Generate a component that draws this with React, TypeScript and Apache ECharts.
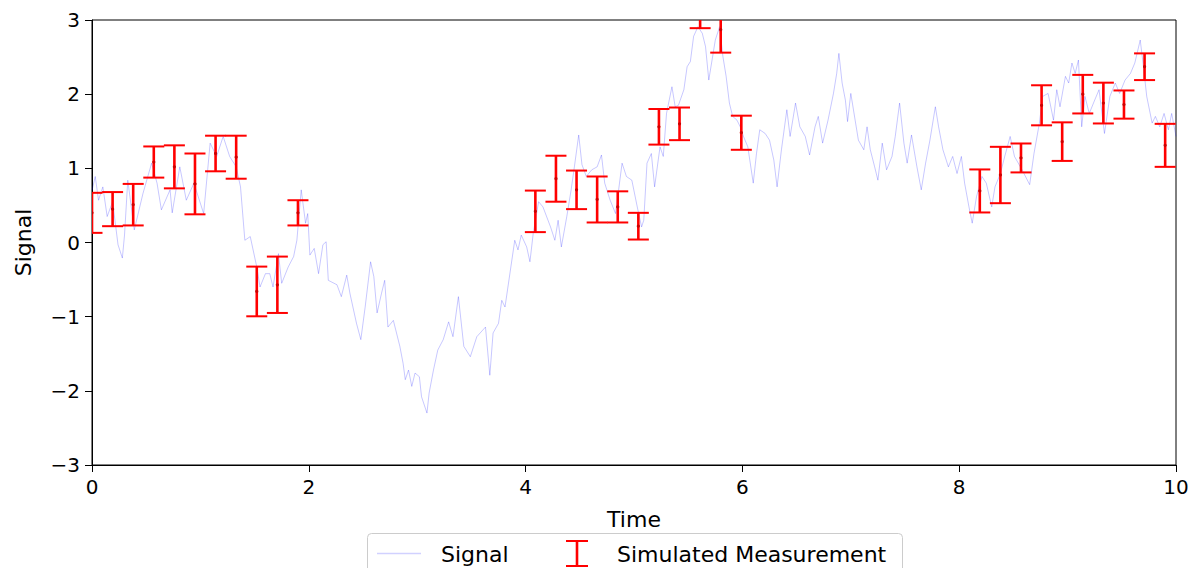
import React, { useEffect, useRef } from "react";
import * as echarts from "echarts";

// Signal
const signalTime = [0.0,0.03,0.06,0.1,0.14,0.19,0.24,0.28,0.3,0.33,0.39,0.47,0.55,0.6,0.64,0.72,0.74,0.81,0.87,0.94,1.03,1.09,1.15,1.21,1.27,1.33,1.37,1.41,1.46,1.52,1.55,1.6,1.64,1.67,1.72,1.75,1.81,1.86,1.89,1.93,1.97,1.99,2.01,2.05,2.09,2.13,2.16,2.18,2.26,2.3,2.35,2.38,2.44,2.48,2.52,2.57,2.6,2.63,2.67,2.7,2.73,2.78,2.84,2.87,2.89,2.92,2.95,2.98,3.02,3.04,3.09,3.11,3.15,3.19,3.24,3.29,3.33,3.38,3.43,3.49,3.55,3.63,3.67,3.7,3.75,3.78,3.81,3.86,3.9,3.93,3.96,4.01,4.04,4.07,4.12,4.16,4.23,4.27,4.3,4.33,4.38,4.42,4.45,4.49,4.52,4.56,4.61,4.66,4.7,4.73,4.78,4.83,4.89,4.93,4.98,5.03,5.07,5.09,5.12,5.16,5.19,5.24,5.27,5.3,5.35,5.38,5.41,5.46,5.49,5.52,5.55,5.59,5.63,5.66,5.69,5.72,5.75,5.79,5.82,5.85,5.88,5.91,5.95,5.98,6.01,6.05,6.1,6.13,6.16,6.21,6.25,6.29,6.32,6.36,6.41,6.44,6.49,6.53,6.58,6.62,6.67,6.7,6.74,6.79,6.84,6.87,6.89,6.92,6.95,6.97,7.0,7.04,7.07,7.12,7.15,7.18,7.22,7.25,7.29,7.33,7.38,7.41,7.45,7.49,7.52,7.56,7.61,7.65,7.69,7.73,7.78,7.81,7.85,7.9,7.94,7.98,8.02,8.05,8.09,8.12,8.16,8.21,8.25,8.3,8.33,8.38,8.42,8.47,8.51,8.58,8.65,8.69,8.74,8.77,8.82,8.87,8.9,8.93,8.98,9.01,9.04,9.07,9.1,9.13,9.16,9.2,9.25,9.29,9.34,9.39,9.44,9.48,9.53,9.58,9.62,9.67,9.7,9.73,9.78,9.81,9.85,9.89,9.93,9.96,10.0];
const signalValue = [0.7,0.89,0.57,0.75,0.35,0.55,-0.03,-0.21,0.1,0.84,0.17,0.66,1.07,0.8,0.44,0.71,0.4,1.02,0.57,0.8,0.39,1.34,1.16,1.43,1.16,1.02,0.75,0.03,0.08,-0.33,-0.6,-0.42,-0.42,-0.6,-0.15,-0.55,-0.33,-0.19,0.03,0.71,0.26,0.39,-0.17,-0.08,-0.42,-0.03,0.01,-0.51,-0.57,-0.73,-0.44,-0.69,-1.09,-1.31,-0.87,-0.26,-0.46,-0.95,-0.69,-0.51,-1.14,-1.05,-1.4,-1.63,-1.85,-1.72,-1.94,-1.76,-1.81,-2.08,-2.3,-2.03,-1.72,-1.45,-1.31,-1.07,-1.27,-0.73,-1.4,-1.54,-1.27,-1.14,-1.79,-1.22,-1.09,-0.78,-0.87,-0.37,0.03,-0.1,0.1,-0.06,-0.26,0.12,0.55,0.48,0.21,0.03,0.3,-0.06,0.35,0.71,1.02,1.45,1.05,0.89,0.98,1.02,1.18,0.8,0.57,0.39,1.07,0.89,0.84,0.48,0.21,0.3,1.07,1.2,0.75,1.29,1.16,1.74,2.1,1.83,1.85,2.06,2.37,2.44,2.78,2.91,2.82,2.64,2.19,2.46,2.73,2.91,2.51,2.24,1.88,1.7,1.65,1.56,1.43,1.29,0.8,1.2,1.52,1.47,1.38,1.11,0.75,1.25,1.79,1.43,1.88,1.56,1.43,1.18,1.56,1.7,1.34,1.65,2.01,2.28,2.55,2.15,1.92,1.63,2.01,1.65,1.38,1.25,1.56,1.25,1.02,0.84,1.34,0.98,1.16,1.43,1.88,1.34,1.07,1.45,1.02,0.71,1.07,1.38,1.83,1.56,1.25,1.02,1.16,0.93,1.16,0.8,0.48,0.26,0.62,0.89,0.8,0.48,0.75,0.93,1.16,1.43,1.16,0.98,0.78,1.2,1.61,1.97,2.01,1.65,2.06,1.83,2.24,2.15,2.42,2.28,2.46,1.56,1.97,1.74,1.92,2.06,1.47,1.97,2.15,2.01,2.19,2.28,2.42,2.73,2.37,1.97,1.61,1.7,1.56,1.74,1.52,1.74,1.43];

// Simulated measurements
const measTime = [0,0.19,0.38,0.57,0.76,0.95,1.14,1.33,1.52,1.71,1.9,4.09,4.28,4.47,4.66,4.85,5.04,5.23,5.42,5.61,5.8,5.99,8.19,8.38,8.57,8.76,8.95,9.14,9.33,9.52,9.71,9.9];
const measValue = [0.4,0.45,0.51,1.085,1.02,0.79,1.2,1.15,-0.66,-0.57,0.4,0.42,0.86,0.71,0.58,0.48,0.22,1.56,1.6,3.2,2.87,1.48,0.695,0.91,1.14,1.85,1.36,2.0,1.88,1.86,2.37,1.31];
const measError = [0.27,0.23,0.28,0.21,0.29,0.41,0.24,0.29,0.335,0.38,0.17,0.28,0.31,0.26,0.31,0.21,0.18,0.24,0.22,0.31,0.31,0.23,0.29,0.38,0.195,0.27,0.26,0.26,0.275,0.19,0.18,0.29];

const xTicks = { min: 0, max: 10, interval: 2 };
const yTicks = { min: -3, max: 3, interval: 1 };

const FONT = "DejaVu Sans";
const fmt = (v: number) => (v < 0 ? "\u2212" + Math.abs(v) : String(v));

export default function App() {
  const ref = useRef<HTMLDivElement>(null);
  useEffect(() => {
    if (!ref.current) return;
    const chart = echarts.init(ref.current, undefined, { renderer: "svg" });
    const signalData = signalTime.map((t, i) => [t, signalValue[i]]);
    const measData = measTime.map((t, i) => [t, measValue[i], measError[i]]);
    const axisCommon = {
      axisLine: { show: true, onZero: false, lineStyle: { color: "#000", width: 1 } },
      axisTick: { show: true, inside: false, length: 7, lineStyle: { color: "#000", width: 1 } },
      splitLine: { show: false },
    };
    chart.setOption({
      animation: false,
      backgroundColor: "#fff",
      textStyle: { fontFamily: FONT },
      grid: { left: 92, right: 21, top: 20, bottom: 103, show: true, borderColor: "#000", borderWidth: 1, backgroundColor: "transparent" },
      xAxis: {
        type: "value",
        ...xTicks,
        ...axisCommon,
        name: "Time",
        nameLocation: "middle",
        nameGap: 43,
        nameTextStyle: { fontSize: 22, color: "#000", fontFamily: FONT },
        axisLabel: { fontSize: 20, color: "#000", margin: 12, fontFamily: FONT, formatter: fmt },
      },
      yAxis: {
        type: "value",
        ...yTicks,
        ...axisCommon,
        name: "Signal",
        nameLocation: "middle",
        nameGap: 58,
        nameTextStyle: { fontSize: 22, color: "#000", fontFamily: FONT },
        axisLabel: { fontSize: 20, color: "#000", margin: 12, fontFamily: FONT, formatter: fmt },
      },
      series: [
        {
          name: "Signal",
          type: "line",
          data: signalData,
          symbol: "none",
          lineStyle: { color: "rgba(0,0,255,0.28)", width: 0.8 },
          itemStyle: { color: "rgba(0,0,255,0.28)" },
          clip: true,
          z: 2,
        },
        {
          name: "Simulated Measurement",
          type: "custom",
          clip: true,
          z: 3,
          data: measData,
          renderItem: (params: any, api: any) => {
            const x = api.value(0);
            const y = api.value(1);
            const e = api.value(2);
            const top = api.coord([x, y + e]);
            const bot = api.coord([x, y - e]);
            const mid = api.coord([x, y]);
            const hw = 10.5;
            return {
              type: "group",
              children: [
                { type: "line", shape: { x1: top[0], y1: top[1], x2: bot[0], y2: bot[1] }, style: { stroke: "#ff0000", lineWidth: 2.6 } },
                { type: "line", shape: { x1: top[0] - hw, y1: top[1], x2: top[0] + hw, y2: top[1] }, style: { stroke: "#ff0000", lineWidth: 2 } },
                { type: "line", shape: { x1: bot[0] - hw, y1: bot[1], x2: bot[0] + hw, y2: bot[1] }, style: { stroke: "#ff0000", lineWidth: 2 } },
                { type: "circle", shape: { cx: mid[0], cy: mid[1], r: 1.6 }, style: { fill: "#cc0000" } },
              ],
            };
          },
        },
      ],
      graphic: [
        { type: "rect", z: 10, shape: { x: 367.5, y: 533.5, width: 535, height: 50, r: 4 }, style: { fill: "rgba(255,255,255,0.8)", stroke: "#cccccc", lineWidth: 1 } },
        { type: "line", z: 11, shape: { x1: 377, y1: 553.5, x2: 421, y2: 553.5 }, style: { stroke: "rgba(0,0,255,0.18)", lineWidth: 1.5 } },
        { type: "text", z: 11, x: 441, y: 554, style: { text: "Signal", fontSize: 22, fontFamily: FONT, fill: "#000", verticalAlign: "middle", align: "left" } },
        { type: "line", z: 11, shape: { x1: 577, y1: 541, x2: 577, y2: 566 }, style: { stroke: "#ff0000", lineWidth: 2.6 } },
        { type: "line", z: 11, shape: { x1: 566, y1: 541, x2: 588, y2: 541 }, style: { stroke: "#ff0000", lineWidth: 2 } },
        { type: "line", z: 11, shape: { x1: 566, y1: 566, x2: 588, y2: 566 }, style: { stroke: "#ff0000", lineWidth: 2 } },
        { type: "text", z: 11, x: 617, y: 554, style: { text: "Simulated Measurement", fontSize: 22, fontFamily: FONT, fill: "#000", verticalAlign: "middle", align: "left" } },
      ],
    });
    return () => chart.dispose();
  }, []);
  return <div ref={ref} style={{ position: "fixed", left: 0, top: 0, width: 1197, height: 568 }} />;
}
